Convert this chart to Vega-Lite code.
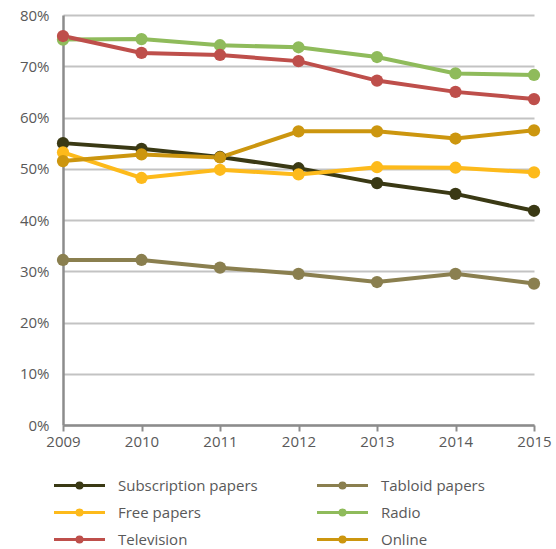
{
  "$schema": "https://vega.github.io/schema/vega-lite/v6.json",
  "width": 471,
  "height": 410,
  "autosize": {"type": "none"},
  "padding": {"left": 63, "top": 15, "right": 22, "bottom": 124},
  "background": "white",
  "config": {
    "font": "Open Sans",
    "view": {"stroke": null},
    "axis": {"labelFont": "Open Sans", "labelColor": "#595959", "labelFontSize": 15}
  },
  "data": {
    "values": [
      {"year": 2009, "series": "Subscription papers", "value": 55.0},
      {"year": 2010, "series": "Subscription papers", "value": 53.9},
      {"year": 2011, "series": "Subscription papers", "value": 52.3},
      {"year": 2012, "series": "Subscription papers", "value": 50.1},
      {"year": 2013, "series": "Subscription papers", "value": 47.2},
      {"year": 2014, "series": "Subscription papers", "value": 45.1},
      {"year": 2015, "series": "Subscription papers", "value": 41.8},
      {"year": 2009, "series": "Tabloid papers", "value": 32.2},
      {"year": 2010, "series": "Tabloid papers", "value": 32.2},
      {"year": 2011, "series": "Tabloid papers", "value": 30.7},
      {"year": 2012, "series": "Tabloid papers", "value": 29.5},
      {"year": 2013, "series": "Tabloid papers", "value": 27.9},
      {"year": 2014, "series": "Tabloid papers", "value": 29.5},
      {"year": 2015, "series": "Tabloid papers", "value": 27.6},
      {"year": 2009, "series": "Free papers", "value": 53.2},
      {"year": 2010, "series": "Free papers", "value": 48.2},
      {"year": 2011, "series": "Free papers", "value": 49.8},
      {"year": 2012, "series": "Free papers", "value": 48.9},
      {"year": 2013, "series": "Free papers", "value": 50.3},
      {"year": 2014, "series": "Free papers", "value": 50.2},
      {"year": 2015, "series": "Free papers", "value": 49.3},
      {"year": 2009, "series": "Radio", "value": 75.2},
      {"year": 2010, "series": "Radio", "value": 75.3},
      {"year": 2011, "series": "Radio", "value": 74.1},
      {"year": 2012, "series": "Radio", "value": 73.7},
      {"year": 2013, "series": "Radio", "value": 71.8},
      {"year": 2014, "series": "Radio", "value": 68.6},
      {"year": 2015, "series": "Radio", "value": 68.3},
      {"year": 2009, "series": "Television", "value": 75.9},
      {"year": 2010, "series": "Television", "value": 72.6},
      {"year": 2011, "series": "Television", "value": 72.2},
      {"year": 2012, "series": "Television", "value": 71.0},
      {"year": 2013, "series": "Television", "value": 67.2},
      {"year": 2014, "series": "Television", "value": 65.0},
      {"year": 2015, "series": "Television", "value": 63.6},
      {"year": 2009, "series": "Online", "value": 51.5},
      {"year": 2010, "series": "Online", "value": 52.8},
      {"year": 2011, "series": "Online", "value": 52.2},
      {"year": 2012, "series": "Online", "value": 57.3},
      {"year": 2013, "series": "Online", "value": 57.3},
      {"year": 2014, "series": "Online", "value": 55.9},
      {"year": 2015, "series": "Online", "value": 57.5}
    ]
  },
  "encoding": {
    "x": {
      "field": "year", "type": "quantitative",
      "scale": {"domain": [2009, 2015], "zero": false, "nice": false},
      "axis": {
        "title": null, "values": [2009, 2010, 2011, 2012, 2013, 2014, 2015], "format": "d",
        "grid": false, "domainColor": "#8c8c8c", "domainWidth": 2.5, "tickColor": "#8c8c8c",
        "tickWidth": 2, "tickSize": 6, "labelPadding": 3, "labelFlush": false
      }
    },
    "y": {
      "field": "value", "type": "quantitative",
      "scale": {"domain": [0, 80], "nice": false},
      "axis": {
        "title": null, "values": [0, 10, 20, 30, 40, 50, 60, 70, 80],
        "labelExpr": "datum.value + '%'", "ticks": false, "labelPadding": 14,
        "grid": true, "gridColor": "#c3c3c3", "gridWidth": 2,
        "domainColor": "#8c8c8c", "domainWidth": 2.5
      }
    },
    "color": {
      "field": "series", "type": "nominal",
      "scale": {
        "domain": ["Subscription papers", "Free papers", "Television", "Tabloid papers", "Radio", "Online"],
        "range": ["#3a3914", "#fdba1b", "#be4f4b", "#8a7f4f", "#8fbb5b", "#cc960f"]
      },
      "legend": {
        "title": null, "orient": "none", "legendX": 9, "legendY": 463,
        "columns": 2, "columnPadding": 53, "rowPadding": 10, "padding": 0,
        "symbolType": "M-5.1,0H5.1M0.5,0A0.5,0.5,0,1,1,-0.5,0A0.5,0.5,0,1,1,0.5,0Z",
        "symbolSize": 100, "symbolStrokeWidth": 3, "labelOffset": 31,
        "labelFontSize": 15, "labelColor": "#595959", "labelFont": "Open Sans",
        "labelLimit": 300,
        "encode": {"symbols": {"update": {"fill": {"scale": "color", "field": "value"}, "stroke": {"scale": "color", "field": "value"}, "opacity": {"value": 1}}}}
      }
    }
  },
  "layer": [
    {"mark": {"type": "line", "strokeWidth": 4}},
    {"mark": {"type": "point", "filled": true, "size": 150, "opacity": 1}}
  ]
}
